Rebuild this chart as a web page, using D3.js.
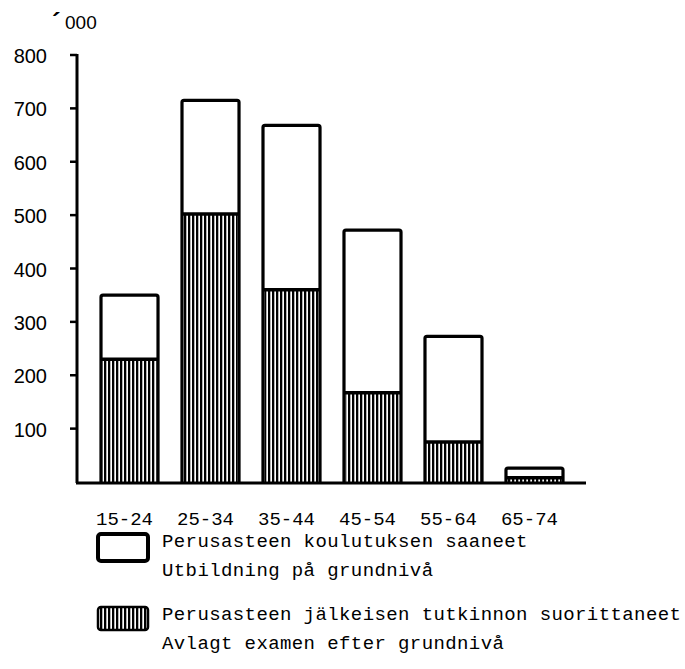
<!DOCTYPE html>
<html>
<head>
<meta charset="utf-8">
<script src="https://cdn.jsdelivr.net/npm/d3@7"></script>
<style>
  body { margin: 0; background: #fff; }
  svg { display: block; }
</style>
</head>
<body>
<div id="chart"></div>
<script>
// Data
const ageGroups = ["15-24", "25-34", "35-44", "45-54", "55-64", "65-74"];
const totalValues = [350, 715, 668, 472, 273, 26];      // basic level, whole bar
const higherValues = [230, 502, 360, 167, 75, 8];       // post-basic degree
const yTicks = [100, 200, 300, 400, 500, 600, 700, 800];
const legendLabels = [
    ["Perusasteen koulutuksen saaneet", "Utbildning på grundnivå"],
    ["Perusasteen jälkeisen tutkinnon suorittaneet", "Avlagt examen efter grundnivå"]
];

const width = 685;
const height = 669;

const svg = d3.select("#chart")
    .append("svg")
        .attr("width", width)
        .attr("height", height);

// Hatch pattern
const defs = svg.append("defs");
defs.append("pattern")
    .attr("id", "hatch")
    .attr("patternUnits", "userSpaceOnUse")
    .attr("width", 4)
    .attr("height", 8)
  .append("rect")
    .attr("x", 0)
    .attr("y", 0)
    .attr("width", 2.3)
    .attr("height", 8)
    .attr("fill", "#000");

// Scales
const xScale = d3.scaleBand()
    .domain(ageGroups)
    .range([101, 563])
    .paddingInner(0.296)
    .paddingOuter(0);

const yScale = d3.scaleLinear()
    .domain([0, 800])
    .range([482, 55]);

const axisX = 77;
const sansFont = "'Liberation Sans', Arial, sans-serif";
const monoFont = "'Liberation Mono', 'DejaVu Sans Mono', monospace";

// Bars
const bars = svg.append("g");

ageGroups.forEach((g, i) => {
    const x0 = xScale(g);
    const w = xScale.bandwidth();
    const yTop = yScale(totalValues[i]);
    const yMid = yScale(higherValues[i]);
    const y0 = yScale(0);

    // whole bar (white)
    bars.append("path")
        .attr("d", `M${x0},${y0} V${yTop + 2} Q${x0},${yTop} ${x0 + 2},${yTop} H${x0 + w - 2} Q${x0 + w},${yTop} ${x0 + w},${yTop + 2} V${y0}`)
        .attr("fill", "#fff")
        .attr("stroke", "#000")
        .attr("stroke-width", 3.2);

    // hatched lower part
    bars.append("rect")
        .attr("x", x0 + 1.5)
        .attr("y", yMid)
        .attr("width", w - 3)
        .attr("height", y0 - yMid)
        .attr("fill", "url(#hatch)");

    bars.append("line")
        .attr("x1", x0)
        .attr("x2", x0 + w)
        .attr("y1", yMid)
        .attr("y2", yMid)
        .attr("stroke", "#000")
        .attr("stroke-width", 3.5);
});

// Y axis
const axis = svg.append("g");

axis.append("line")
    .attr("x1", axisX)
    .attr("x2", axisX)
    .attr("y1", yScale(800) - 1)
    .attr("y2", yScale(0) + 1)
    .attr("stroke", "#000")
    .attr("stroke-width", 3);

axis.selectAll(".tick")
    .data(yTicks)
    .join("line")
        .attr("x1", axisX - 7)
        .attr("x2", axisX)
        .attr("y1", d => yScale(d))
        .attr("y2", d => yScale(d))
        .attr("stroke", "#000")
        .attr("stroke-width", 2.5);

axis.selectAll(".tick-label")
    .data(yTicks)
    .join("text")
        .attr("x", 47)
        .attr("y", d => yScale(d) + 8)
        .attr("text-anchor", "end")
        .style("font-family", sansFont)
        .style("font-size", "20px")
        .text(d => d);

// Unit label
svg.append("text")
    .attr("x", 52)
    .attr("y", 31)
    .style("font-family", sansFont)
    .style("font-size", "26px")
    .style("font-weight", "bold")
    .text("\u00B4");

svg.append("text")
    .attr("x", 65)
    .attr("y", 29)
    .style("font-family", sansFont)
    .style("font-size", "19px")
    .text("000");

// Baseline
svg.append("line")
    .attr("x1", axisX - 1)
    .attr("x2", 586)
    .attr("y1", yScale(0) + 1)
    .attr("y2", yScale(0) + 1)
    .attr("stroke", "#000")
    .attr("stroke-width", 3);

// X labels
svg.selectAll(".x-label")
    .data(ageGroups)
    .join("text")
        .attr("x", d => xScale(d) + xScale.bandwidth() / 2 - 5)
        .attr("y", 525)
        .attr("text-anchor", "middle")
        .style("font-family", monoFont)
        .style("font-size", "19px")
        .text(d => d);

// Legend
const legend = svg.append("g");
const boxY = [534, 607];
const boxFill = ["#fff", "url(#hatch)"];

legendLabels.forEach((lines, i) => {
    legend.append("rect")
        .attr("x", 98)
        .attr("y", boxY[i])
        .attr("width", 50)
        .attr("height", i === 0 ? 27 : 23)
        .attr("rx", 3)
        .attr("fill", boxFill[i])
        .attr("stroke", "#000")
        .attr("stroke-width", i === 0 ? 4 : 2.5);

    lines.forEach((t, j) => {
        legend.append("text")
            .attr("x", 162)
            .attr("y", boxY[i] + 13 + j * 29)
            .style("font-family", monoFont)
            .style("font-size", "19px")
            .style("letter-spacing", "0.4px")
            .text(t);
    });
});
</script>
</body>
</html>
